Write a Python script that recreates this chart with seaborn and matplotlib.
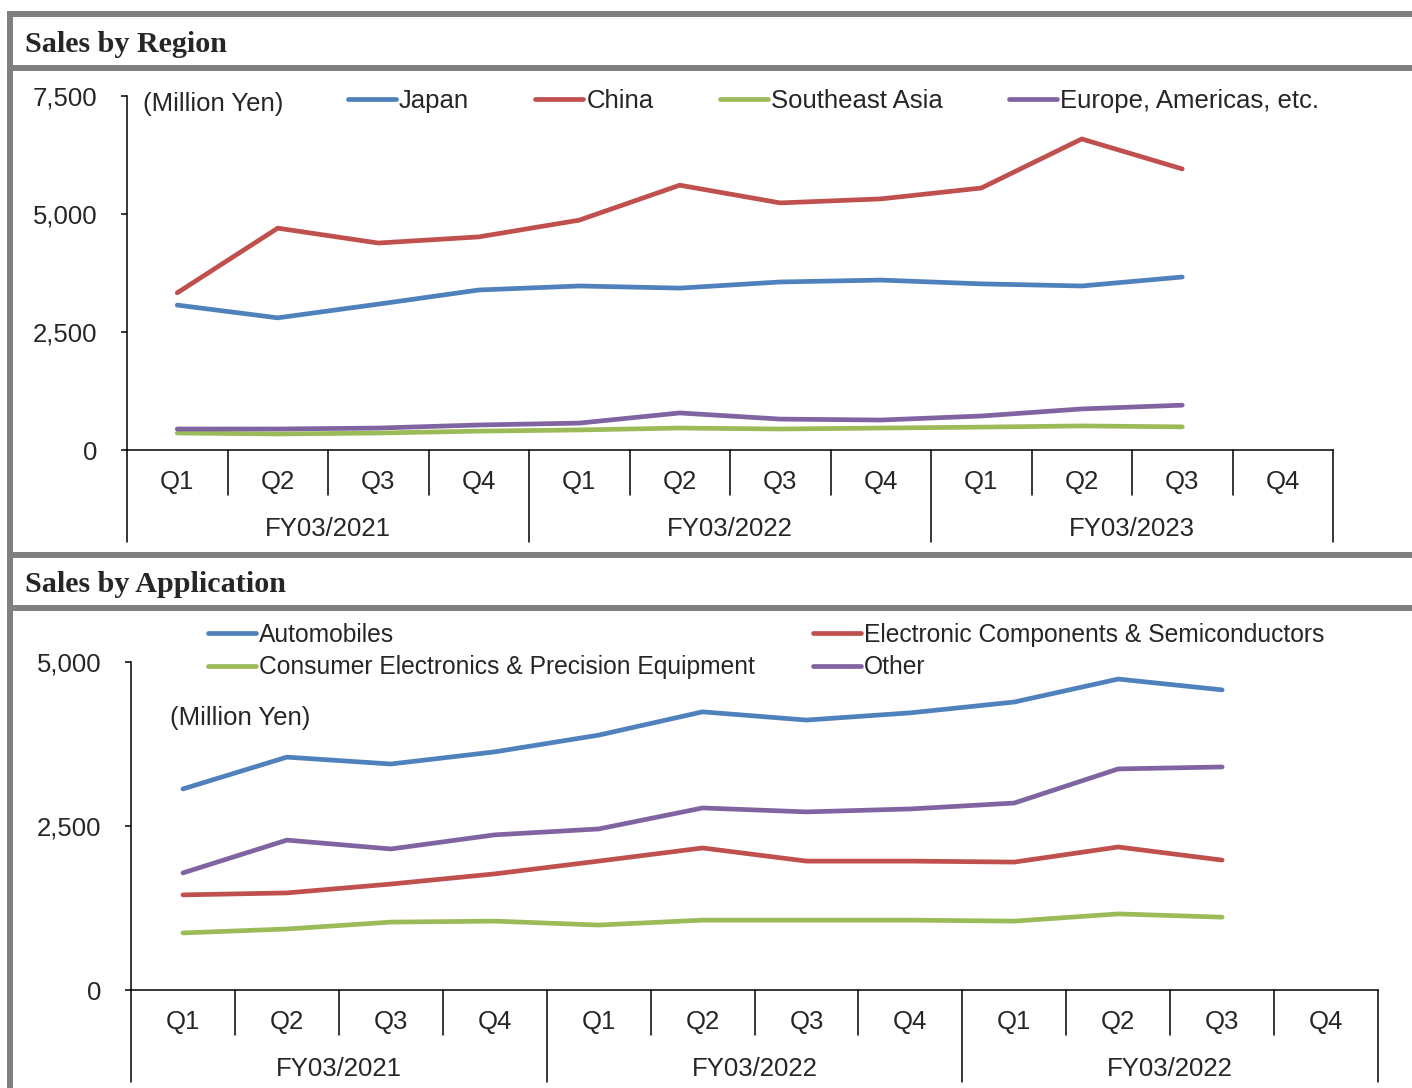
import numpy as np
import pandas as pd
import matplotlib
matplotlib.use("Agg")
import matplotlib.pyplot as plt
import seaborn as sns
from matplotlib.patches import Rectangle
from matplotlib.transforms import blended_transform_factory

# ---------------- data ----------------
quarters = ["Q1", "Q2", "Q3", "Q4"]
fy_region = ["FY03/2021", "FY03/2022", "FY03/2023"]
fy_app = ["FY03/2021", "FY03/2022", "FY03/2022"]

region_names = ["Japan", "China", "Southeast Asia", "Europe, Americas, etc."]
japan = [3070, 2800, 3090, 3390, 3475, 3430, 3560, 3600, 3520, 3475, 3665]
china = [3330, 4700, 4385, 4515, 4870, 5610, 5235, 5320, 5550, 6590, 5955]
se_asia = [360, 340, 360, 400, 425, 465, 445, 465, 485, 510, 490]
europe = [445, 445, 465, 530, 570, 785, 655, 635, 720, 870, 950]

app_names = ["Automobiles", "Consumer Electronics & Precision Equipment",
             "Electronic Components & Semiconductors", "Other"]
automobiles = [3065, 3550, 3445, 3630, 3885, 4240, 4115, 4225, 4390, 4740, 4575]
consumer = [870, 930, 1035, 1050, 990, 1065, 1065, 1065, 1050, 1160, 1110]
electronic = [1450, 1480, 1615, 1770, 1965, 2165, 1965, 1965, 1950, 2180, 1980]
other = [1785, 2285, 2150, 2365, 2455, 2775, 2715, 2760, 2850, 3370, 3400]

colors = {"blue": "#4F81BD", "red": "#C0504D", "green": "#9BBB59", "purple": "#8064A2"}

# ---------------- setup ----------------
sns.set_theme(style="white")
plt.rcParams["font.family"] = ["Liberation Sans", "DejaVu Sans"]
FS = 18.5
FS_LEG2 = 17.7
LW = 3.4

W, H = 1412, 1088
fig = plt.figure(figsize=(W / 100, H / 100), dpi=100)
fig.patch.set_facecolor("white")


def fx(x):
    return x / W


def fy(y):
    return 1 - y / H


# gray frame
gray = "#808080"
for (x0, y0, x1, y1) in [(7, 11, 13, H), (7, 11, W, 17), (7, 65, W, 71),
                         (7, 552, W, 558), (7, 605, W, 611)]:
    fig.patches.append(Rectangle((fx(x0), fy(y1)), fx(x1) - fx(x0), fy(y0) - fy(y1),
                                 transform=fig.transFigure, color=gray, lw=0, zorder=0))

title_font = dict(family=["Liberation Serif", "DejaVu Serif"], weight="bold", size=21.7)
fig.text(fx(25), fy(44), "Sales by Region", ha="left", va="center", **title_font)
fig.text(fx(25), fy(585), "Sales by Application", ha="left", va="center", **title_font)


def make_df(names, series):
    rows = []
    for name, vals in zip(names, series):
        for i, v in enumerate(vals):
            rows.append({"idx": i, "series": name, "value": v})
    return pd.DataFrame(rows)


def draw_panel(left, right, top, bottom, ymax, yticks, df, names, pal, fys):
    ax = fig.add_axes([fx(left), fy(bottom), (right - left) / W, (bottom - top) / H])
    sns.lineplot(data=df, x="idx", y="value", hue="series", hue_order=names,
                 palette=pal, linewidth=LW, ax=ax, solid_capstyle="round",
                 solid_joinstyle="round", legend=True, zorder=3)
    nslots = len(quarters) * len(fys)
    ax.set_xlim(-0.5, nslots - 0.5)
    ax.set_ylim(0, ymax)
    ax.set_xticks([])
    ax.set_yticks(yticks)
    ax.set_yticklabels([f"{t:,}" for t in yticks], fontsize=FS)
    ax.tick_params(axis="y", direction="out", length=4.5, width=1.1, pad=17,
                   left=True, color="black")
    ax.set_xlabel("")
    ax.set_ylabel("")
    for s in ["top", "right"]:
        ax.spines[s].set_visible(False)
    for s in ["left", "bottom"]:
        ax.spines[s].set_color("black")
        ax.spines[s].set_linewidth(1.1)
    ax.set_facecolor("none")

    tr = blended_transform_factory(ax.transData, fig.transFigure)
    # separators
    for k in range(nslots + 1):
        xb = k - 0.5
        if k % 4 == 0:
            yend = bottom + 92
        else:
            yend = bottom + 45
        ax.plot([xb, xb], [fy(bottom), fy(yend)], transform=tr, color="black",
                lw=1.1, clip_on=False)
    # labels
    for k in range(nslots):
        ax.text(k, fy(bottom + 32), quarters[k % 4], transform=tr, ha="center",
                va="center", fontsize=FS)
    for j, lab in enumerate(fys):
        ax.text(4 * j + 1.5, fy(bottom + 79), lab, transform=tr, ha="center",
                va="center", fontsize=FS)
    leg = ax.get_legend()
    handles = list(leg.legend_handles)
    labels = [t.get_text() for t in leg.get_texts()]
    leg.remove()
    for h in handles:
        h.set_linewidth(LW)
        h.set_solid_capstyle("round")
    return ax, handles, labels


# ---------------- top panel ----------------
df_r = make_df(region_names, [japan, china, se_asia, europe])
pal_r = dict(zip(region_names, [colors["blue"], colors["red"], colors["green"], colors["purple"]]))
ax1, h1, l1 = draw_panel(127, 1333, 96, 450, 7500, [0, 2500, 5000, 7500], df_r,
                         region_names, pal_r, fy_region)
ax1.legend(h1, l1, ncol=4, loc="center left", bbox_to_anchor=(fx(348), fy(101)),
           bbox_transform=fig.transFigure, frameon=False, fontsize=FS,
           handlelength=1.87, handletextpad=0.12, columnspacing=2.57,
           borderpad=0, borderaxespad=0)
fig.text(fx(143), fy(104), "(Million Yen)", ha="left", va="center", fontsize=FS)

# ---------------- bottom panel ----------------
df_a = make_df(app_names, [automobiles, consumer, electronic, other])
pal_a = dict(zip(app_names, [colors["blue"], colors["green"], colors["red"], colors["purple"]]))
ax2, h2, l2 = draw_panel(131, 1378, 662, 990, 5000, [0, 2500, 5000], df_a,
                         app_names, pal_a, fy_app)
ax2.legend(h2, l2, ncol=2, loc="center left", bbox_to_anchor=(fx(208), fy(651)),
           bbox_transform=fig.transFigure, frameon=False, fontsize=FS_LEG2,
           handlelength=1.95, handletextpad=0.12, columnspacing=2.36,
           labelspacing=0.36, borderpad=0, borderaxespad=0)
fig.text(fx(170), fy(718), "(Million Yen)", ha="left", va="center", fontsize=FS)

fig.savefig("out.png", dpi=100, facecolor="white")
